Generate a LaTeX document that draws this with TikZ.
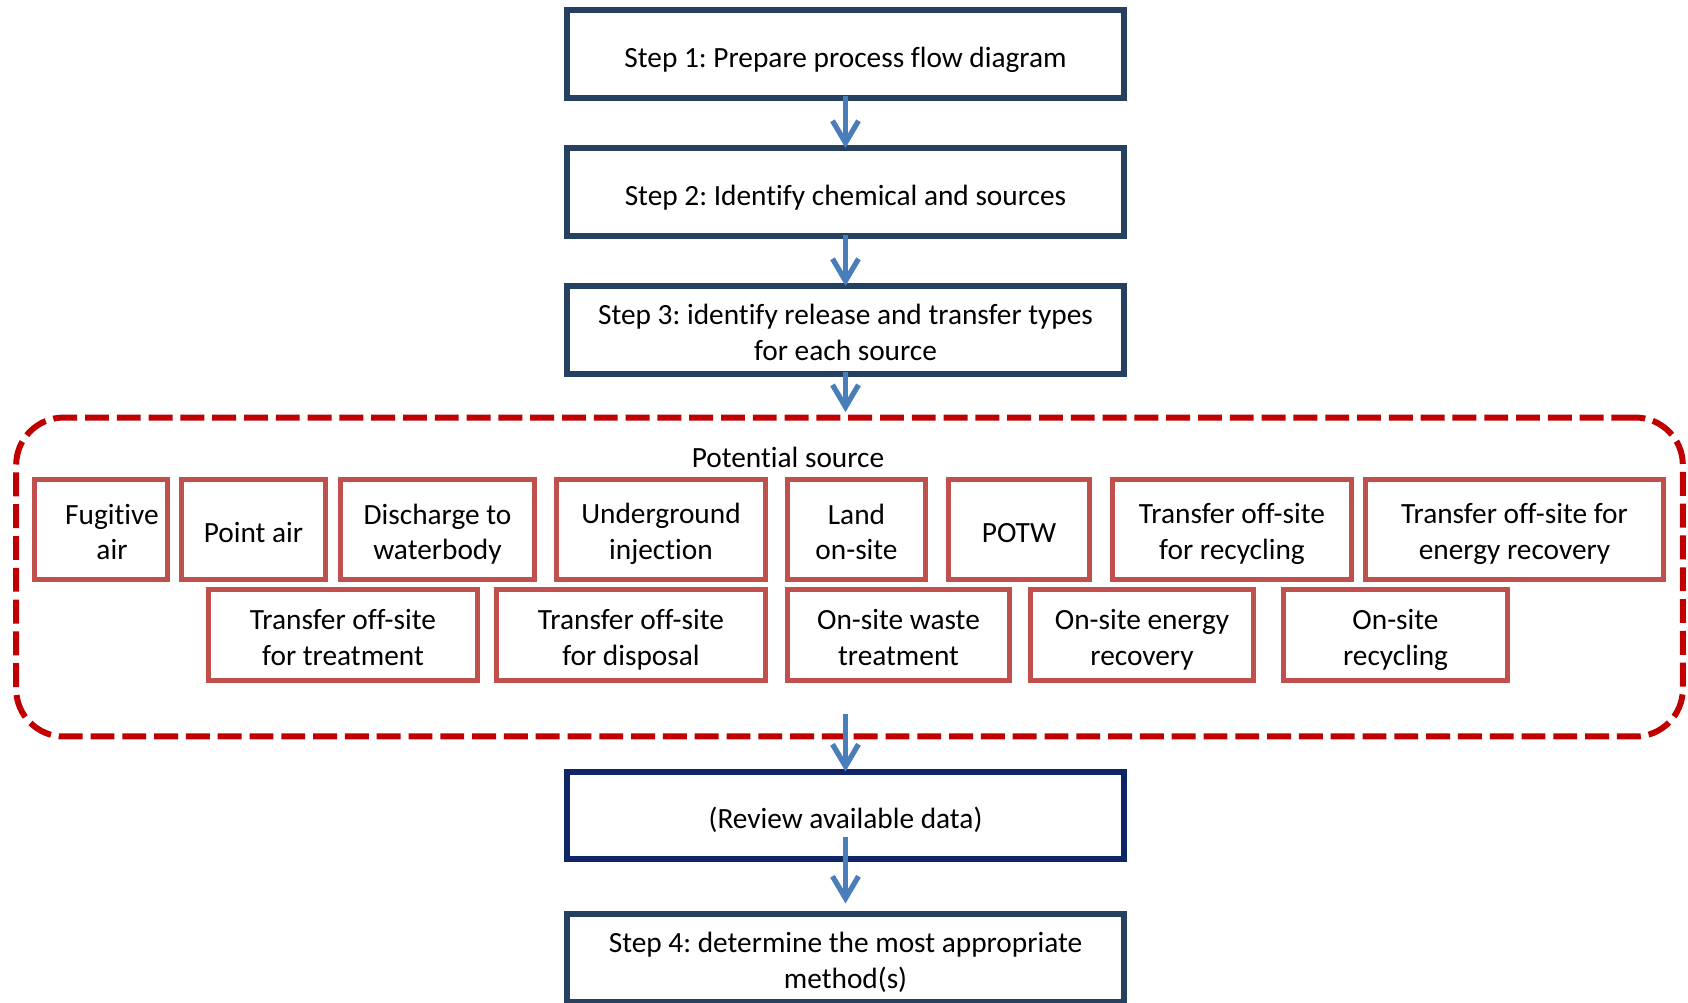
\documentclass[tikz,border=0pt]{standalone}
\usepackage{fontspec}
\setmainfont{Carlito}[Ligatures=NoCommon]
\usetikzlibrary{arrows.meta}

\definecolor{stepblue}{HTML}{254061}
\definecolor{revblue}{HTML}{0E2566}
\definecolor{srcred}{HTML}{C0504D}
\definecolor{dashred}{HTML}{C00000}
\definecolor{flowblue}{HTML}{4A7EBB}

\newcommand{\boxstrut}{\rule[-2.6pt]{0pt}{20.3pt}}
\newcommand{\ts}{\rule{0pt}{16.8pt}}

\begin{document}
\frenchspacing
\begin{tikzpicture}[x=0.02cm, y=-0.02cm, font=\fontsize{16.7}{20.3}\selectfont]
  \useasboundingbox (0,0) rectangle (1688,1002);

  \begin{scope}[every node/.style={draw=stepblue, line width=3.2pt, minimum width=11.15cm, minimum height=1.75cm, align=center, inner sep=0pt, execute at end node=\boxstrut}]
      \node (s1) at (845.5,54) {Step 1: Prepare process flow diagram};
      \node (s2) at (845.5,192) {Step 2: Identify chemical and sources};
      \node (s3) at (845.5,330) {\ts Step 3: identify release and transfer types\\for each source};
      \node[draw=revblue] (rev) at (845.5,815.5) {(Review available data)};
      \node (s4) at (845.5,958) {\ts Step 4: determine the most appropriate\\method(s)};
  \end{scope}

  \node[draw=dashred, line width=3.4pt, dash pattern=on 13.6pt off 4.5pt, rounded corners=0.95cm, minimum width=33.34cm, minimum height=6.38cm] (pot) at (849.5,577) {};
  \node (ptxt) at (788,457) {Potential source};

  \begin{scope}[every node/.style={draw=srcred, line width=3pt, minimum height=2.0cm, align=center, inner sep=0pt, execute at end node=\boxstrut}]
      \node[minimum width=2.66cm] (fug) at (101,529.5) {\ts\hspace*{0.44cm}Fugitive\\\hspace*{0.44cm}air};
      \node[minimum width=2.88cm] (pnt) at (253.5,529.5) {Point air};
      \node[minimum width=3.88cm] (wat) at (437.5,529.5) {\ts Discharge to\\waterbody};
      \node[minimum width=4.18cm] (inj) at (661,529.5) {\ts Underground\\injection};
      \node[minimum width=2.76cm] (lnd) at (856.5,529.5) {\ts Land\\on-site};
      \node[minimum width=2.82cm] (potw) at (1019,529.5) {POTW};
      \node[minimum width=4.78cm] (trc) at (1232,529.5) {\ts Transfer off-site\\for recycling};
      \node[minimum width=5.96cm] (ten) at (1514.5,529.5) {\ts Transfer off-site for\\energy recovery};
  \end{scope}

  \begin{scope}[every node/.style={draw=srcred, line width=3pt, minimum height=1.82cm, align=center, inner sep=0pt, execute at end node=\boxstrut}]
      \node[minimum width=5.38cm] (ttr) at (343,635) {\ts Transfer off-site\\for treatment};
      \node[minimum width=5.38cm] (tds) at (631,635) {\ts Transfer off-site\\for disposal};
      \node[minimum width=4.44cm] (owt) at (898.5,635) {\ts On-site waste\\treatment};
      \node[minimum width=4.46cm] (oen) at (1142,635) {\ts On-site energy\\recovery};
      \node[minimum width=4.48cm] (orc) at (1395.5,635) {\ts On-site\\recycling};
  \end{scope}

  \tikzset{flow arc/.style={-{Straight Barb[length=0.44cm, width=0.52cm]}, flowblue, line width=3pt}}

  \coordinate (out) at (845.5,714);

  \draw[flow arc, shorten <=-0.1cm, shorten >=-0.05cm] (s1) -- (s2);
  \draw[flow arc, shorten <=-0.08cm, shorten >=-0.05cm] (s2) -- (s3);
  \draw[flow arc, shorten <=-0.1cm, shorten >=0.05cm] (s3.south) -- (s3.south |- pot.north);
  \draw[flow arc, shorten >=-0.05cm] (out) -- (rev);
  \draw[flow arc, shorten <=-0.5cm, shorten >=0.16cm] (rev) -- (s4);

\end{tikzpicture}
\end{document}
